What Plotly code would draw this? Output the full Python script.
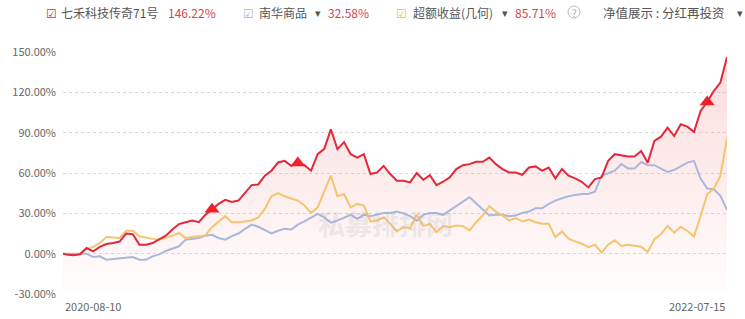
import plotly.graph_objects as go
import pandas as pd

# ---- data ----
start_date = "2020-08-10"
fridays = pd.date_range("2020-08-14", "2022-07-15", freq="7D")
dates = [pd.Timestamp(start_date)] + list(fridays)

fund = [0, -0.7, -1.2, -0.5, 4.2, 1.7, 5, 7.2, 8, 9,
        15, 14.4, 6.7, 6.7, 7.9, 10.9, 13.4, 17.9, 22, 23.4,
        24.7, 23.4, 28.9, 33, 37, 40, 38.5, 39.5, 45.6, 51,
        51.5, 58, 61.7, 67.8, 69, 65.3, 67.5, 65.8, 61.7, 74,
        78, 92.5, 77.7, 83, 74, 71.5, 74, 59.2, 60.4, 65.3,
        59.2, 54.3, 54.3, 53, 60, 55, 58.4, 51, 53.5, 56.7,
        62.9, 65.8, 66.6, 68.3, 68.3, 71.5, 66.6, 62.9, 60.4, 60.4,
        58.7, 64.1, 64.9, 61.7, 64.1, 56, 62.9, 58, 56, 53.5,
        49.3, 55.5, 56.7, 69, 74, 73.2, 72.3, 72.2, 76.4, 67.7,
        83.8, 87, 93.7, 87.5, 96.2, 94.5, 90.5, 106.2, 112.9, 121,
        127.3, 146.22]

nanhua = [0, 0, 0, 0, 0, -2.5, -2, -4.5, -4, -3,
          -2.5, -2.5, -4.5, -4.5, -2, -0.5, 2, 3.5, 5.5, 10.4,
          11, 11.7, 13.4, 14, 11.7, 10.4, 13, 15, 18.5, 21.6,
          20, 17.5, 15, 17, 18.6, 18, 21.6, 24, 27, 29.6,
          27, 23, 24.7, 27, 28.9, 25.9, 28.9, 27.9, 28.9, 30.3,
          30.3, 31.3, 30, 28, 24.5, 28.9, 30.3, 30.3, 28.9, 32,
          35.3, 38.7, 42, 37.7, 32.8, 28.4, 28.9, 28.9, 27.9, 28.4,
          30.3, 31.3, 33.8, 33.8, 37, 39.5, 41.2, 42.7, 43.6, 44.4,
          44.4, 46.1, 58, 60, 61.7, 66.6, 63.4, 63.4, 68.2, 65.8,
          65.8, 63.3, 60.8, 62.3, 64.8, 67.7, 69, 55.8, 48.4, 47.9,
          43, 32.58]

excess = [0, -0.5, -1, 0, 3.5, 5, 8, 12.4, 11.9, 11.7,
          17, 17, 12.9, 11.7, 11, 10.4, 11.7, 13.4, 15.4, 11.6,
          12.4, 13, 13.6, 19.7, 24, 27.9, 23.4, 23.4, 24, 24.7,
          27, 33.3, 42.7, 45.1, 42.7, 41.2, 39.5, 35.8, 30.3, 34.5,
          45.6, 58, 42.7, 44.4, 34.5, 37, 35.8, 23.9, 24.7, 27,
          22.2, 16.5, 19.7, 19, 28.9, 20.5, 22.2, 16, 20.5, 19.7,
          21, 20.5, 17.3, 23.4, 28.4, 35.3, 31.3, 28.4, 24.7, 26.4,
          23.9, 25.4, 23.4, 22.2, 22.2, 12.3, 16.5, 11.1, 9.1, 7.4,
          4.9, 6.7, 0.7, 6.7, 9.9, 5.7, 6.7, 6.2, 5.2, 1.2,
          10.7, 14.4, 20.6, 15.6, 20.1, 16.9, 12.7, 28, 44.2, 48.4,
          57.8, 85.71]

signal_idx = [23, 36, 98]   # buy-signal markers on the fund line

y_ticks = [-30, 0, 30, 60, 90, 120, 150]
x_labels = ["2020-08-10", "2022-07-15"]

RED = "#e4283b"
BLUE = "#aab7dc"
ORANGE = "#f6c46f"

fig = go.Figure()
# baseline for area fill
fig.add_trace(go.Scatter(x=dates, y=[y_ticks[0]] * len(dates), mode="lines",
                         line=dict(width=0), hoverinfo="skip", showlegend=False))
fig.add_trace(go.Scatter(x=dates, y=fund, mode="lines", line=dict(width=0),
                         fill="tonexty",
                         fillgradient=dict(type="vertical",
                                           colorscale=[[0, "rgba(240,130,130,0.02)"],
                                                       [1, "rgba(240,130,130,0.28)"]]),
                         hoverinfo="skip", showlegend=False))
fig.add_trace(go.Scatter(x=dates, y=nanhua, mode="lines",
                         line=dict(color=BLUE, width=2), showlegend=False))
fig.add_trace(go.Scatter(x=dates, y=excess, mode="lines",
                         line=dict(color=ORANGE, width=2), showlegend=False))
fig.add_trace(go.Scatter(x=dates, y=fund, mode="lines",
                         line=dict(color=RED, width=2), showlegend=False))
fig.add_trace(go.Scatter(x=[dates[i] for i in signal_idx], y=[fund[i] for i in signal_idx],
                         mode="markers",
                         marker=dict(symbol="triangle-up", size=13, color="#f0202a"),
                         showlegend=False))

W, H = 745, 319
L, R, T, B = 63, 18, 52, 25
pw = W - L - R
ph = H - T - B


def px(x):
    return (x - L) / pw


def py(y):
    return 1 - (y - T) / ph


font = "Noto Sans CJK SC, Noto Sans, sans-serif"
ann = []


def txt(x, y, s, color, size=12, anchor="left"):
    ann.append(dict(x=px(x), y=py(y), xref="paper", yref="paper", text=s,
                    showarrow=False, xanchor=anchor, yanchor="middle",
                    font=dict(family=font, size=size, color=color)))


PCT = "#d9454a"
TXT = "#555"
# legend row
txt(44, 12, "☑", RED, 12)
txt(59, 12, "七禾科技传奇71号", TXT, 12)
txt(166, 12, "146.22%", PCT, 12)
txt(241, 12, "☑", BLUE, 12)
txt(257, 12, "南华商品", TXT, 12)
txt(313, 12, "▾", TXT, 11)
txt(326, 12, "32.58%", PCT, 12)
txt(394, 12, "☑", "#f2b84b", 12)
txt(411, 12, "超额收益(几何)", TXT, 12)
txt(500, 12, "▾", TXT, 11)
txt(513, 12, "85.71%", PCT, 12)
txt(574, 12, "?", "#aaa", 10, anchor="center")
txt(601, 12, "净值展示 : 分红再投资", TXT, 12.5)
txt(735, 12, "▾", TXT, 11)

# watermark
ann.append(dict(x=px(385), y=py(245), xref="paper", yref="paper", text="<b>私募排排网</b>",
                showarrow=False, font=dict(family=font, size=27, color="rgba(170,170,170,0.2)")))

# x-axis end labels
ann.append(dict(x=dates[0], y=-0.01, xref="x", yref="paper", text=x_labels[0],
                showarrow=False, xanchor="left", yanchor="top",
                font=dict(family=font, size=11, color="#666")))
ann.append(dict(x=dates[-1], y=-0.01, xref="x", yref="paper", text=x_labels[1],
                showarrow=False, xanchor="right", yanchor="top",
                font=dict(family=font, size=11, color="#666")))

shapes = [dict(type="circle", xref="paper", yref="paper",
               x0=px(568), x1=px(580), y0=py(18), y1=py(6),
               line=dict(color="#bbb", width=1))]

fig.update_layout(
    width=W, height=H,
    margin=dict(l=L, r=R, t=T, b=B),
    paper_bgcolor="white", plot_bgcolor="white",
    annotations=ann, shapes=shapes,
    showlegend=False,
    xaxis=dict(range=[dates[0], dates[-1]], showgrid=False, showticklabels=False,
               zeroline=False, showline=False, ticks=""),
    yaxis=dict(range=[y_ticks[0], y_ticks[-1]], tickvals=y_ticks,
               ticktext=[f"{v:.2f}%" for v in y_ticks],
               showgrid=True, gridcolor="#d9d9d9", griddash="dot", gridwidth=1,
               zeroline=False, showline=False, ticks="", ticklabelstandoff=6,
               tickfont=dict(family=font, size=11, color="#666")),
)

fig.write_html("out.html")
